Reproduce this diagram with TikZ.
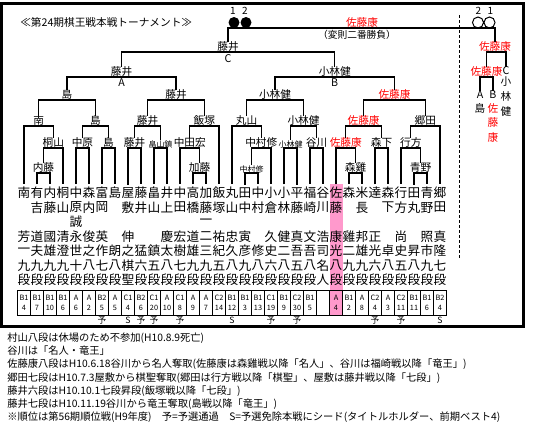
\documentclass[tikz,border=0pt]{standalone}
\usepackage{fontspec}
\setmainfont{Noto Sans CJK JP}
\usetikzlibrary{positioning}
\definecolor{hlpink}{RGB}{255,153,204}
\definecolor{winred}{RGB}{255,0,0}
\tikzset{
  wire/.style={line width=1.1pt, draw=black},
  pname/.style={inner xsep=0pt, inner ysep=2pt, font=\fontsize{9.5}{10}\selectfont},
  win/.style={anchor=south, inner xsep=0.5pt, inner ysep=0pt, font=\fontsize{8}{9}\selectfont},
  winsm/.style={win, font=\fontsize{6}{7}\selectfont},
  hot/.style={text=winred},
  grp/.style={inner sep=0pt, font=\fontsize{8}{9}\selectfont},
  cls/.style={inner sep=0pt, font=\fontsize{5.5}{6}\selectfont},
  mk/.style={inner sep=0pt, font=\fontsize{6.5}{7}\selectfont},
  memo/.style={anchor=west, inner sep=0pt, font=\fontsize{7.7}{9}\selectfont}
}

\begin{document}
\begin{tikzpicture}[x=0.75pt, y=-0.75pt]
  \useasboundingbox (0,0) rectangle (551,429);

  % pink column for the challenger
  \fill[hlpink] (329.5,184) rectangle (342.5,315);

  % players, one column each
  \foreach \k/\a/\b/\c/\d/\e/\f/\g in {1/南///芳/一/九/段, 2/有/吉//道/夫/九/段,
      3/内/藤//國/雄/九/段, 4/桐/山//清/澄/九/段, 5/中/原/誠/永/世/十/段,
      6/森/内//俊/之/八/段, 7/富/岡//英/作/七/段, 8/島////朗/八/段,
      9/屋/敷//伸/之/棋/聖, 10/藤/井///猛/六/段, 11/畠/山///鎮/五/段,
      12/井/上//慶/太/八/段, 13/中/田//宏/樹/七/段, 14/高/橋//道/雄/九/段,
      15/加/藤/一/二/三/九/段, 16/飯/塚//祐/紀/五/段, 17/丸/山//忠/久/八/段,
      18/田/中//寅/彦/九/段, 19/中/村///修/八/段, 20/小/倉//久/史/六/段,
      21/小/林//健/二/八/段, 22/平/藤//真/吾/五/段, 23/福/崎//文/吾/八/段,
      24/谷/川//浩/司/名/人, 25/佐/藤//康/光/八/段, 26/森///雞/二/九/段,
      27/米/長//邦/雄/九/段, 28/達///正/光/六/段, 29/森/下///卓/八/段,
      30/行/方//尚/史/五/段, 31/田/丸///昇/八/段, 32/青/野//照/市/九/段,
      33/郷/田//真/隆/七/段}{
    \node[pname] (p\k-1) at (11+13*\k,193) {\a};
    \node[pname] (p\k-2) at (11+13*\k,207.5) {\b};
    \node[pname] (p\k-3) at (11+13*\k,222) {\c};
    \node[pname] (p\k-4) at (11+13*\k,236.5) {\d};
    \node[pname] (p\k-5) at (11+13*\k,251) {\e};
    \node[pname] (p\k-6) at (11+13*\k,265.5) {\f};
    \node[pname] (p\k-7) at (11+13*\k,280) {\g};
  }

  % rank table
  \draw[line width=0.75pt] (17.5,290) rectangle (446.5,315);
  \foreach \k in {1,...,32}
    \draw[line width=0.75pt] (17.5+13*\k,290) -- ++(0,25);
  \foreach \k/\cl/\nm in {1/B1/4, 2/B1/7, 3/B1/10, 4/B1/6, 5/A/6, 6/A/2, 7/B2/5,
      8/A/5, 9/C1/4, 10/B2/6, 11/C1/20, 12/A/10, 13/C1/8, 14/A/9, 15/A/7,
      16/C2/14, 17/B1/12, 18/B1/3, 19/B1/13, 20/C1/19, 21/B1/9, 22/C2/30,
      23/B1/5, 24//, 25/A/4, 26/B1/2, 27/A/8, 28/C2/4, 29/A/3, 30/C2/11,
      31/B1/11, 32/B1/6, 33/B2/4}{
    \node[cls] (k\k) at (11+13*\k,297.5) {\cl};
    \node[cls] (q\k) at (11+13*\k,308) {\nm};
  }
  \foreach \k/\m in {7/予, 9/S, 10/予, 11/予, 13/予, 17/S, 20/予, 22/予, 28/予, 30/予, 33/S}
    \node[mk] (s\k) at (11+13*\k,320) {\m};

  % block A
  \node[win] (m1) at (43.5,173) {内藤};
  \node[win] (m2) at (53.25,148) {桐山};
  \node[win] (m3) at (38.6,126) {南};
  \node[win] (m4) at (82.5,148) {中原};
  \node[win] (m5) at (108.5,148) {島};
  \node[win] (m6) at (95.5,126) {島};
  \node[win] (m7) at (67,100) {島};
  \node[win] (m8) at (134.5,148) {藤井};
  \node[winsm] (m9) at (160.5,148) {畠山鎮};
  \node[win] (m10) at (147.5,126) {藤井};
  \node[win] (m11) at (199.5,173) {加藤};
  \node[win] (m12) at (189.75,148) {中田宏};
  \node[win] (m13) at (204.4,126) {飯塚};
  \node[win] (m14) at (176,100) {藤井};
  \node[win] (m15) at (121.5,77) {藤井};
  \node[grp] (ga) at (121.5,82.5) {A};

  % block B
  \node[winsm] (m16) at (251.5,173) {中村修};
  \node[win] (m17) at (261.25,148) {中村修};
  \node[win] (m18) at (246.6,126) {丸山};
  \node[winsm] (m19) at (290.5,148) {小林健};
  \node[win] (m20) at (316.5,148) {谷川};
  \node[win] (m21) at (303.5,126) {小林健};
  \node[win] (m22) at (275,100) {小林健};
  \node[win] (m23) at (355.5,173) {森雞};
  \node[win, hot] (m24) at (345.75,148) {佐藤康};
  \node[win] (m25) at (381.5,148) {森下};
  \node[win, hot] (m26) at (363.6,126) {佐藤康};
  \node[win] (m27) at (420.5,173) {青野};
  \node[win] (m28) at (410.75,148) {行方};
  \node[win] (m29) at (425.4,126) {郷田};
  \node[win, hot] (m30) at (394.5,100) {佐藤康};
  \node[win] (m31) at (334.75,77) {小林健};
  \node[grp] (gb) at (334.75,82.5) {B};
  \node[win] (m32) at (228,52) {藤井};
  \node[grp] (gc) at (228,58.5) {C};

  \draw[wire] (p2-1.north) |- (m1.south) -| (p3-1.north);
  \draw[wire] (m1.north) |- (m2.south) -| (p4-1.north);
  \draw[wire] (p1-1.north) |- (m3.south) -| (m2.north);
  \draw[wire] (p5-1.north) |- (m4.south) -| (p6-1.north);
  \draw[wire] (p7-1.north) |- (m5.south) -| (p8-1.north);
  \draw[wire] (m4.north) |- (m6.south) -| (m5.north);
  \draw[wire] (m3.north) |- (m7.south) -| (m6.north);
  \draw[wire] (p9-1.north) |- (m8.south) -| (p10-1.north);
  \draw[wire] (p11-1.north) |- (m9.south) -| (p12-1.north);
  \draw[wire] (m8.north) |- (m10.south) -| (m9.north);
  \draw[wire] (p14-1.north) |- (m11.south) -| (p15-1.north);
  \draw[wire] (p13-1.north) |- (m12.south) -| (m11.north);
  \draw[wire] (m12.north) |- (m13.south) -| (p16-1.north);
  \draw[wire] (m10.north) |- (m14.south) -| (m13.north);
  \draw[wire] (m7.north) |- (m15.south) -| (m14.north);

  \draw[wire] (p18-1.north) |- (m16.south) -| (p19-1.north);
  \draw[wire] (m16.north) |- (m17.south) -| (p20-1.north);
  \draw[wire] (p17-1.north) |- (m18.south) -| (m17.north);
  \draw[wire] (p21-1.north) |- (m19.south) -| (p22-1.north);
  \draw[wire] (p23-1.north) |- (m20.south) -| (p24-1.north);
  \draw[wire] (m19.north) |- (m21.south) -| (m20.north);
  \draw[wire] (m18.north) |- (m22.south) -| (m21.north);
  \draw[wire] (p26-1.north) |- (m23.south) -| (p27-1.north);
  \draw[wire] (p25-1.north) |- (m24.south) -| (m23.north);
  \draw[wire] (p28-1.north) |- (m25.south) -| (p29-1.north);
  \draw[wire] (m24.north) |- (m26.south) -| (m25.north);
  \draw[wire] (p31-1.north) |- (m27.south) -| (p32-1.north);
  \draw[wire] (p30-1.north) |- (m28.south) -| (m27.north);
  \draw[wire] (m28.north) |- (m29.south) -| (p33-1.north);
  \draw[wire] (m26.north) |- (m30.south) -| (m29.north);
  \draw[wire] (m22.north) |- (m31.south) -| (m30.north);
  \draw[wire] (m15.north) |- (m32.south) -| (m31.north);

  % second bracket
  \draw[line width=0.75pt, dash pattern=on 2.25pt off 1.5pt] (459,15) -- (459,260);
  \node[win, hot] (rt) at (495,52) {佐藤康};
  \node[win, hot] (rs) at (486.5,77) {佐藤康};
  \node[grp] (rc) at (506,71) {C};
  \node[grp] (ra) at (480,95) {A};
  \node[grp] (rb) at (493,95) {B};
  \node[grp] (ra1) at (480,108) {島};
  \node[grp, hot] (rb1) at (493,108) {佐};
  \node[grp, hot] (rb2) at (493,122.5) {藤};
  \node[grp, hot] (rb3) at (493,137) {康};
  \node[grp] (rc1) at (506,82) {小};
  \node[grp] (rc2) at (506,96.5) {林};
  \node[grp] (rc3) at (506,111) {健};
  \draw[wire] (rs.north) |- (rt.south) -| (rc.north);
  \draw[wire] (ra.north) |- (rs.south) -| (rb.north);

  % final
  \coordinate (fin) at (0,28);
  \draw[wire] (m32.north) -- (m32.north |- fin) -- (rt.north |- fin) -- (rt.north);
  \node[win, hot] (champ) at (362,28) {佐藤康};
  \node[grp, font=\fontsize{7.3}{8}\selectfont] (bo2) at (357,34.5) {（変則二番勝負）};
  \fill (234,22.5) circle (5.5) (246,22.5) circle (5.5);
  \draw[line width=0.75pt] (478,22.5) circle (5.5) (489.5,22.5) circle (5.5);
  \node[mk, font=\fontsize{7.5}{8}\selectfont] (w1) at (233,10.5) {1};
  \node[mk, font=\fontsize{7.5}{8}\selectfont] (w2) at (245,10.5) {2};
  \node[mk, font=\fontsize{7.5}{8}\selectfont] (w3) at (478.5,10.5) {2};
  \node[mk, font=\fontsize{7.5}{8}\selectfont] (w4) at (490.5,10.5) {1};

  \node[grp, anchor=west] (title) at (20,22) {≪第24期棋王戦本戦トーナメント≫};
  \draw[line width=2.25pt] (1.5,3.5) rectangle (523.5,326.5);

  % notes
  \node[memo] (t1) at (7,337.7) {村山八段は休場のため不参加(H10.8.9死亡)};
  \node[memo] (t2) at (7,351) {谷川は「名人・竜王」};
  \node[memo] (t3) at (7,364.3) {佐藤康八段はH10.6.18谷川から名人奪取(佐藤康は森雞戦以降「名人」、谷川は福崎戦以降「竜王」)};
  \node[memo] (t4) at (7,377.7) {郷田七段はH10.7.3屋敷から棋聖奪取(郷田は行方戦以降「棋聖」、屋敷は藤井戦以降「七段」)};
  \node[memo] (t5) at (7,391) {藤井六段はH10.10.1七段昇段(飯塚戦以降「七段」)};
  \node[memo] (t6) at (7,404) {藤井七段はH10.11.19谷川から竜王奪取(島戦以降「竜王」)};
  \node[memo] (t7) at (7,417.3) {※順位は第56期順位戦(H9年度)　予=予選通過　S=予選免除本戦にシード(タイトルホルダー、前期ベスト4)};
\end{tikzpicture}
\end{document}
